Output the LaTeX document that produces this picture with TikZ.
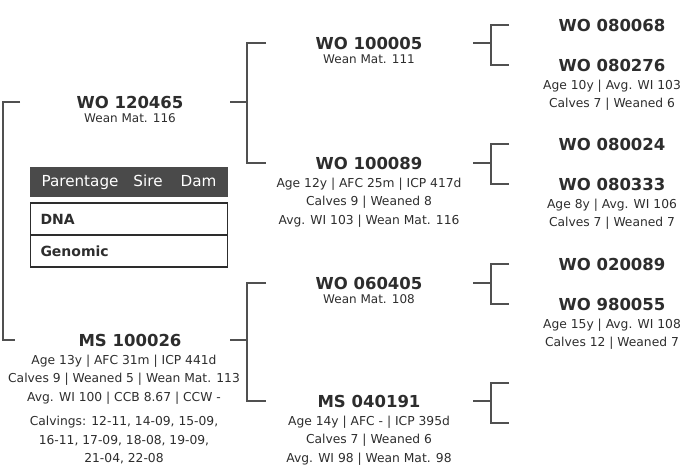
\documentclass[tikz,border=0pt]{standalone}
\usepackage{fontspec}
\setmainfont{DejaVu Sans}
\usetikzlibrary{positioning}
\definecolor{InkGray}{RGB}{45,45,45}
\definecolor{LineGray}{RGB}{80,80,80}
\definecolor{HeadGray}{RGB}{74,74,74}

\begin{document}
\begin{tikzpicture}[x=1pt, y=-1pt,
    every node/.style={text=InkGray, inner sep=0pt},
    animal/.style={font=\fontsize{16.5}{20}\selectfont\bfseries},
    wean/.style={font=\fontsize{12}{15}\selectfont},
    stats/.style={font=\fontsize{12.3}{18.5}\selectfont, align=center},
    link/.style={draw=LineGray, line width=1.2pt},
    tablerow/.style={draw=InkGray, line width=1.8pt, minimum width=197pt, minimum height=32pt, text width=177pt, align=left, font=\fontsize{14}{16}\selectfont\bfseries}
]
\useasboundingbox (0,0) rectangle (699,473);

% first generation
\node[animal] (wo120465) at (130,102) {WO 120465};
\node[wean, below=5pt of wo120465] (wo120465w) {Wean Mat. 116};
\node[animal] (ms100026) at (130,340) {MS 100026};
\node[stats, below=8pt of ms100026, xshift=-6pt] (ms100026s) {Age 13y | AFC 31m | ICP 441d\\Calves 9 | Weaned 5 | Wean Mat. 113\\Avg. WI 100 | CCB 8.67 | CCW -};
\node[stats, below=12pt of ms100026s] (ms100026c) {Calvings: 12-11, 14-09, 15-09,\\16-11, 17-09, 18-08, 19-09,\\21-04, 22-08};

% parentage table
\node[fill=HeadGray, minimum width=198pt, minimum height=30pt, text=white, font=\fontsize{15.2}{16}\selectfont] (parentage) at (129,182) {\raisebox{-2pt}{Parentage\hspace{15pt}Sire\hspace{18pt}Dam}};
\node[tablerow] (dna) at (129,219) {DNA};
\node[tablerow] (genomic) at (129,251) {Genomic};

% second generation
\node[animal] (wo100005) at (369,43) {WO 100005};
\node[wean, below=5pt of wo100005] (wo100005w) {Wean Mat. 111};
\node[animal] (wo100089) at (369,163) {WO 100089};
\node[stats, below=8pt of wo100089] (wo100089s) {Age 12y | AFC 25m | ICP 417d\\Calves 9 | Weaned 8\\Avg. WI 103 | Wean Mat. 116};
\node[animal] (wo060405) at (369,283) {WO 060405};
\node[wean, below=5pt of wo060405] (wo060405w) {Wean Mat. 108};
\node[animal] (ms040191) at (369,401) {MS 040191};
\node[stats, below=8pt of ms040191] (ms040191s) {Age 14y | AFC - | ICP 395d\\Calves 7 | Weaned 6\\Avg. WI 98 | Wean Mat. 98};

% third generation
\node[animal] (wo080068) at (612,25) {WO 080068};
\node[animal] (wo080276) at (612,65) {WO 080276};
\node[stats, below=8pt of wo080276] (wo080276s) {Age 10y | Avg. WI 103\\Calves 7 | Weaned 6};
\node[animal] (wo080024) at (612,144) {WO 080024};
\node[animal] (wo080333) at (612,184) {WO 080333};
\node[stats, below=8pt of wo080333] (wo080333s) {Age 8y | Avg. WI 106\\Calves 7 | Weaned 7};
\node[animal] (wo020089) at (612,264) {WO 020089};
\node[animal] (wo980055) at (612,304) {WO 980055};
\node[stats, below=8pt of wo980055] (wo980055s) {Age 15y | Avg. WI 108\\Calves 12 | Weaned 7};

% bracket lines
\coordinate (v1) at (3,0);
\coordinate (s2) at (230,0);
\coordinate (v2) at (247,0);
\coordinate (s3) at (473,0);
\coordinate (v3) at (491,0);
\coordinate (ms040191sire) at (509,383);
\coordinate (ms040191dam) at (509,423);

\draw[link] (v1 |- wo120465) ++(17,0) -- (v1 |- wo120465) -- (v1 |- ms100026) -- ++(12,0);

\draw[link] (s2 |- wo120465) -- (v2 |- wo120465)
    (v2 |- wo100005) ++(19,0) -- (v2 |- wo100005) -- (v2 |- wo100089) -- ++(19,0);
\draw[link] (s2 |- ms100026) -- (v2 |- ms100026)
    (v2 |- wo060405) ++(19,0) -- (v2 |- wo060405) -- (v2 |- ms040191) -- ++(19,0);

\draw[link] (s3 |- wo100005) -- (v3 |- wo100005)
    (v3 |- wo080068) ++(18,0) -- (v3 |- wo080068) -- (v3 |- wo080276) -- ++(18,0);
\draw[link] (s3 |- wo100089) -- (v3 |- wo100089)
    (v3 |- wo080024) ++(18,0) -- (v3 |- wo080024) -- (v3 |- wo080333) -- ++(18,0);
\draw[link] (s3 |- wo060405) -- (v3 |- wo060405)
    (v3 |- wo020089) ++(18,0) -- (v3 |- wo020089) -- (v3 |- wo980055) -- ++(18,0);
\draw[link] (s3 |- ms040191) -- (v3 |- ms040191)
    (ms040191sire) -- (v3 |- ms040191sire) -- (v3 |- ms040191dam) -- (ms040191dam);
\end{tikzpicture}
\end{document}
